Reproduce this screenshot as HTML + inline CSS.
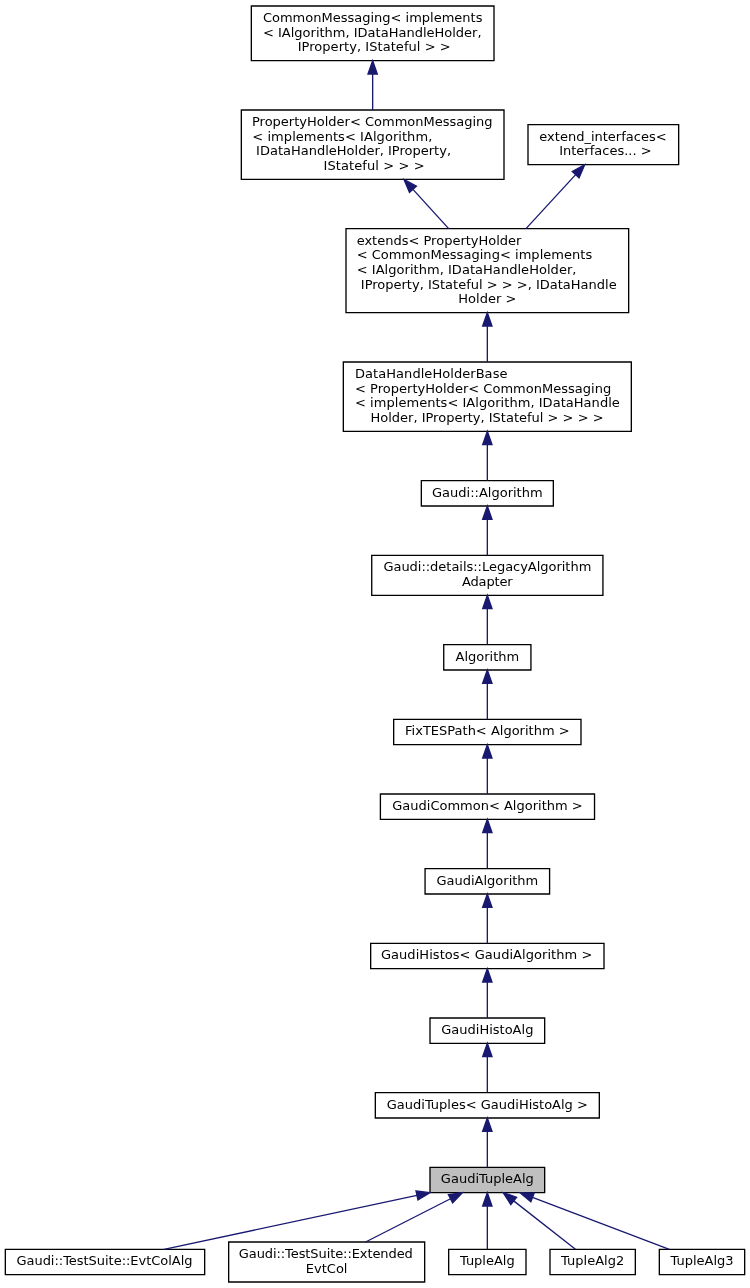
<!DOCTYPE html>
<html><head><meta charset="utf-8"><title>Inheritance graph</title>
<style>
html,body{margin:0;padding:0;background:#fff;}
svg{display:block;}
svg{will-change:transform;}
text{font-family:"DejaVu Sans","Liberation Sans",sans-serif;font-size:9.75px;fill:#000;}
</style></head><body>
<svg width="750" height="1288" viewBox="0 0 562.5 966">
<g id="tx" transform="translate(4 962)">
<polygon fill="white" stroke="#000" stroke-width="1" points="184.5,-916.5 184.5,-957.5 366.5,-957.5 366.5,-916.5 184.5,-916.5"/>
<text x="193.18" y="-945.5" text-anchor="start" xml:space="preserve">CommonMessaging&lt; implements</text>
<text x="193.25" y="-934.5" text-anchor="start" xml:space="preserve">&lt; IAlgorithm, IDataHandleHolder,</text>
<text x="275.07" y="-923.5" text-anchor="middle" style="letter-spacing:0.0391px" xml:space="preserve"> IProperty, IStateful &gt; &gt;</text>
<polygon fill="white" stroke="#000" stroke-width="1" points="177,-827.5 177,-879.5 374,-879.5 374,-827.5 177,-827.5"/>
<text x="185.00" y="-867.5" text-anchor="start" xml:space="preserve">PropertyHolder&lt; CommonMessaging</text>
<text x="185.22" y="-856.5" text-anchor="start" style="letter-spacing:0.0437px" xml:space="preserve">&lt; implements&lt; IAlgorithm,</text>
<text x="185.00" y="-845.5" text-anchor="start" xml:space="preserve"> IDataHandleHolder, IProperty,</text>
<text x="275.01" y="-834.5" text-anchor="middle" style="letter-spacing:0.0750px" xml:space="preserve"> IStateful &gt; &gt; &gt;</text>
<polygon fill="white" stroke="#000" stroke-width="1" points="392,-838.5 392,-868.5 505,-868.5 505,-838.5 392,-838.5"/>
<text x="400.52" y="-856.5" text-anchor="start" xml:space="preserve">extend_interfaces&lt;</text>
<text x="448.50" y="-845.5" text-anchor="middle" xml:space="preserve"> Interfaces... &gt;</text>
<polygon fill="white" stroke="#000" stroke-width="1" points="255.5,-727.5 255.5,-790.5 467.5,-790.5 467.5,-727.5 255.5,-727.5"/>
<text x="263.50" y="-778.5" text-anchor="start" xml:space="preserve">extends&lt; PropertyHolder</text>
<text x="263.50" y="-767.5" text-anchor="start" style="letter-spacing:0.0268px" xml:space="preserve">&lt; CommonMessaging&lt; implements</text>
<text x="263.50" y="-756.5" text-anchor="start" style="letter-spacing:0.0290px" xml:space="preserve">&lt; IAlgorithm, IDataHandleHolder,</text>
<text x="263.50" y="-745.5" text-anchor="start" xml:space="preserve"> IProperty, IStateful &gt; &gt; &gt;, IDataHandle</text>
<text x="361.50" y="-734.5" text-anchor="middle" xml:space="preserve">Holder &gt;</text>
<polygon fill="white" stroke="#000" stroke-width="1" points="253.5,-638.5 253.5,-690.5 469.5,-690.5 469.5,-638.5 253.5,-638.5"/>
<text x="262.25" y="-678.5" text-anchor="start" style="letter-spacing:0.0395px" xml:space="preserve">DataHandleHolderBase</text>
<text x="262.25" y="-667.5" text-anchor="start" style="letter-spacing:0.0141px" xml:space="preserve">&lt; PropertyHolder&lt; CommonMessaging</text>
<text x="262.25" y="-656.5" text-anchor="start" style="letter-spacing:0.0292px" xml:space="preserve">&lt; implements&lt; IAlgorithm, IDataHandle</text>
<text x="361.27" y="-645.5" text-anchor="middle" xml:space="preserve">Holder, IProperty, IStateful &gt; &gt; &gt; &gt;</text>
<polygon fill="white" stroke="#000" stroke-width="1" points="312,-582.5 312,-601.5 411,-601.5 411,-582.5 312,-582.5"/>
<text x="361.50" y="-589.5" text-anchor="middle" xml:space="preserve">Gaudi::Algorithm</text>
<polygon fill="white" stroke="#000" stroke-width="1" points="274.8,-515.5 274.8,-545.5 448.2,-545.5 448.2,-515.5 274.8,-515.5"/>
<text x="283.55" y="-533.5" text-anchor="start" style="letter-spacing:-0.0200px" xml:space="preserve">Gaudi::details::LegacyAlgorithm</text>
<text x="361.45" y="-522.5" text-anchor="middle" style="letter-spacing:-0.1000px" xml:space="preserve">Adapter</text>
<polygon fill="white" stroke="#000" stroke-width="1" points="328.8,-459.5 328.8,-478.5 394.2,-478.5 394.2,-459.5 328.8,-459.5"/>
<text x="361.50" y="-466.5" text-anchor="middle" xml:space="preserve">Algorithm</text>
<polygon fill="white" stroke="#000" stroke-width="1" points="291.25,-403.5 291.25,-422.5 431.75,-422.5 431.75,-403.5 291.25,-403.5"/>
<text x="361.50" y="-410.5" text-anchor="middle" xml:space="preserve">FixTESPath&lt; Algorithm &gt;</text>
<polygon fill="white" stroke="#000" stroke-width="1" points="281.3,-347.5 281.3,-366.5 441.9,-366.5 441.9,-347.5 281.3,-347.5"/>
<text x="361.60" y="-354.5" text-anchor="middle" xml:space="preserve">GaudiCommon&lt; Algorithm &gt;</text>
<polygon fill="white" stroke="#000" stroke-width="1" points="314.8,-291.5 314.8,-310.5 408.2,-310.5 408.2,-291.5 314.8,-291.5"/>
<text x="361.50" y="-298.5" text-anchor="middle" xml:space="preserve">GaudiAlgorithm</text>
<polygon fill="white" stroke="#000" stroke-width="1" points="274,-235.5 274,-254.5 449,-254.5 449,-235.5 274,-235.5"/>
<text x="360.99" y="-242.5" text-anchor="middle" style="letter-spacing:0.0375px" xml:space="preserve">GaudiHistos&lt; GaudiAlgorithm &gt;</text>
<polygon fill="white" stroke="#000" stroke-width="1" points="318.5,-179.5 318.5,-198.5 404.5,-198.5 404.5,-179.5 318.5,-179.5"/>
<text x="361.50" y="-186.5" text-anchor="middle" xml:space="preserve">GaudiHistoAlg</text>
<polygon fill="white" stroke="#000" stroke-width="1" points="277.5,-123.5 277.5,-142.5 445.5,-142.5 445.5,-123.5 277.5,-123.5"/>
<text x="361.50" y="-130.5" text-anchor="middle" xml:space="preserve">GaudiTuples&lt; GaudiHistoAlg &gt;</text>
<polygon fill="#bfbfbf" stroke="#000" stroke-width="1" points="318.5,-67.5 318.5,-86.5 404.5,-86.5 404.5,-67.5 318.5,-67.5"/>
<text x="361.50" y="-74.5" text-anchor="middle" xml:space="preserve">GaudiTupleAlg</text>
<polygon fill="white" stroke="#000" stroke-width="1" points="0,-6 0,-25 149.5,-25 149.5,-6 0,-6"/>
<text x="74.36" y="-13" text-anchor="middle" style="letter-spacing:-0.0231px" xml:space="preserve">Gaudi::TestSuite::EvtColAlg</text>
<polygon fill="white" stroke="#000" stroke-width="1" points="167.5,-0.5 167.5,-30.5 314.5,-30.5 314.5,-0.5 167.5,-0.5"/>
<text x="175.12" y="-18.5" text-anchor="start" style="letter-spacing:-0.0660px" xml:space="preserve">Gaudi::TestSuite::Extended</text>
<text x="241.00" y="-7.5" text-anchor="middle" xml:space="preserve">EvtCol</text>
<polygon fill="white" stroke="#000" stroke-width="1" points="332.5,-6 332.5,-25 390.5,-25 390.5,-6 332.5,-6"/>
<text x="361.50" y="-13" text-anchor="middle" xml:space="preserve">TupleAlg</text>
<polygon fill="white" stroke="#000" stroke-width="1" points="408.5,-6 408.5,-25 472.5,-25 472.5,-6 408.5,-6"/>
<text x="440.50" y="-13" text-anchor="middle" xml:space="preserve">TupleAlg2</text>
<polygon fill="white" stroke="#000" stroke-width="1" points="490.5,-6 490.5,-25 554.5,-25 554.5,-6 490.5,-6"/>
<text x="522.50" y="-13" text-anchor="middle" xml:space="preserve">TupleAlg3</text>
<path fill="none" stroke="#191970" stroke-width="1" d="M275.50,-906.50L275.50,-879.50"/>
<polygon fill="#191970" stroke="#191970" stroke-width="1" points="272.00,-906.50 275.50,-916.50 279.00,-906.50 272.00,-906.50"/>
<path fill="none" stroke="#191970" stroke-width="1" d="M305.72,-820.00L332.50,-790.50"/>
<polygon fill="#191970" stroke="#191970" stroke-width="1" points="303.13,-817.64 299.00,-827.40 308.31,-822.35 303.13,-817.64"/>
<path fill="none" stroke="#191970" stroke-width="1" d="M427.74,-831.04L390.50,-790.50"/>
<polygon fill="#191970" stroke="#191970" stroke-width="1" points="425.16,-833.40 434.50,-838.40 430.31,-828.67 425.16,-833.40"/>
<path fill="none" stroke="#191970" stroke-width="1" d="M361.50,-717.50L361.50,-690.50"/>
<polygon fill="#191970" stroke="#191970" stroke-width="1" points="358.00,-717.50 361.50,-727.50 365.00,-717.50 358.00,-717.50"/>
<path fill="none" stroke="#191970" stroke-width="1" d="M361.50,-628.50L361.50,-601.50"/>
<polygon fill="#191970" stroke="#191970" stroke-width="1" points="358.00,-628.50 361.50,-638.50 365.00,-628.50 358.00,-628.50"/>
<path fill="none" stroke="#191970" stroke-width="1" d="M361.50,-572.50L361.50,-545.50"/>
<polygon fill="#191970" stroke="#191970" stroke-width="1" points="358.00,-572.50 361.50,-582.50 365.00,-572.50 358.00,-572.50"/>
<path fill="none" stroke="#191970" stroke-width="1" d="M361.50,-505.50L361.50,-478.50"/>
<polygon fill="#191970" stroke="#191970" stroke-width="1" points="358.00,-505.50 361.50,-515.50 365.00,-505.50 358.00,-505.50"/>
<path fill="none" stroke="#191970" stroke-width="1" d="M361.50,-449.50L361.50,-422.50"/>
<polygon fill="#191970" stroke="#191970" stroke-width="1" points="358.00,-449.50 361.50,-459.50 365.00,-449.50 358.00,-449.50"/>
<path fill="none" stroke="#191970" stroke-width="1" d="M361.50,-393.50L361.50,-366.50"/>
<polygon fill="#191970" stroke="#191970" stroke-width="1" points="358.00,-393.50 361.50,-403.50 365.00,-393.50 358.00,-393.50"/>
<path fill="none" stroke="#191970" stroke-width="1" d="M361.50,-337.50L361.50,-310.50"/>
<polygon fill="#191970" stroke="#191970" stroke-width="1" points="358.00,-337.50 361.50,-347.50 365.00,-337.50 358.00,-337.50"/>
<path fill="none" stroke="#191970" stroke-width="1" d="M361.50,-281.50L361.50,-254.50"/>
<polygon fill="#191970" stroke="#191970" stroke-width="1" points="358.00,-281.50 361.50,-291.50 365.00,-281.50 358.00,-281.50"/>
<path fill="none" stroke="#191970" stroke-width="1" d="M361.50,-225.50L361.50,-198.50"/>
<polygon fill="#191970" stroke="#191970" stroke-width="1" points="358.00,-225.50 361.50,-235.50 365.00,-225.50 358.00,-225.50"/>
<path fill="none" stroke="#191970" stroke-width="1" d="M361.50,-169.50L361.50,-142.50"/>
<polygon fill="#191970" stroke="#191970" stroke-width="1" points="358.00,-169.50 361.50,-179.50 365.00,-169.50 358.00,-169.50"/>
<path fill="none" stroke="#191970" stroke-width="1" d="M361.50,-113.50L361.50,-86.50"/>
<polygon fill="#191970" stroke="#191970" stroke-width="1" points="358.00,-113.50 361.50,-123.50 365.00,-113.50 358.00,-113.50"/>
<path fill="none" stroke="#191970" stroke-width="1" d="M308.72,-65.42L119.00,-25.00"/>
<polygon fill="#191970" stroke="#191970" stroke-width="1" points="307.99,-68.84 318.50,-67.50 309.45,-61.99 307.99,-68.84"/>
<path fill="none" stroke="#191970" stroke-width="1" d="M333.89,-62.96L270.20,-30.50"/>
<polygon fill="#191970" stroke="#191970" stroke-width="1" points="332.30,-66.08 342.80,-67.50 335.48,-59.84 332.30,-66.08"/>
<path fill="none" stroke="#191970" stroke-width="1" d="M361.50,-57.50L361.50,-25.00"/>
<polygon fill="#191970" stroke="#191970" stroke-width="1" points="358.00,-57.50 361.50,-67.50 365.00,-57.50 358.00,-57.50"/>
<path fill="none" stroke="#191970" stroke-width="1" d="M381.27,-61.33L427.60,-25.00"/>
<polygon fill="#191970" stroke="#191970" stroke-width="1" points="379.11,-58.58 373.40,-67.50 383.43,-64.08 379.11,-58.58"/>
<path fill="none" stroke="#191970" stroke-width="1" d="M395.35,-63.95L498.00,-25.00"/>
<polygon fill="#191970" stroke="#191970" stroke-width="1" points="394.11,-60.68 386.00,-67.50 396.59,-67.22 394.11,-60.68"/>
</g></svg></body></html>
